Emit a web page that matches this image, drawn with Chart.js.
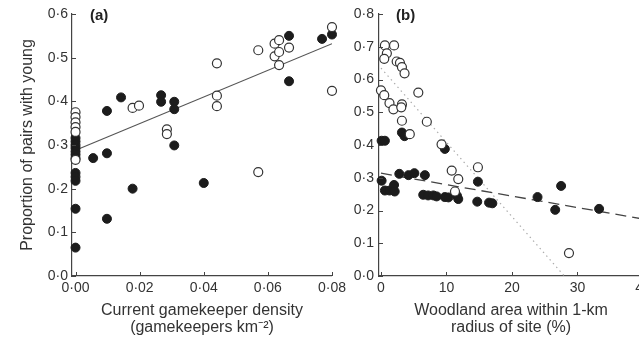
<!DOCTYPE html>
<html><head><meta charset="utf-8">
<script src="https://cdn.jsdelivr.net/npm/chart.js@4.4.0/dist/chart.umd.min.js"></script>
<style>
html,body{margin:0;padding:0;background:#fff;width:639px;height:343px;overflow:hidden;position:relative}
.wrap{position:absolute;top:0;height:343px}
</style></head><body>
<div class="wrap" style="left:0;width:350px"><canvas id="ca"></canvas></div>
<div class="wrap" style="left:330px;width:340px"><canvas id="cb"></canvas></div>
<script>
// ---------- Panel (a) data ----------
const A_FILLED_X = [0,0,0,0,0,0,0,0,0,0,0,0,0.0055,0.0098,0.0098,0.0098,0.0142,0.0178,0.0267,0.0267,0.0308,0.0308,0.0308,0.040,0.0666,0.0666,0.0769,0.080];
const A_FILLED_Y = [0.316,0.308,0.300,0.293,0.285,0.278,0.270,0.236,0.227,0.218,0.154,0.065,0.270,0.378,0.281,0.131,0.409,0.200,0.414,0.399,0.399,0.382,0.299,0.213,0.550,0.446,0.543,0.553];
const A_OPEN_X = [0,0,0,0,0,0,0.0178,0.0198,0.0285,0.0285,0.0441,0.0441,0.0441,0.057,0.057,0.0621,0.0621,0.0635,0.0635,0.0635,0.0666,0.080,0.080];
const A_OPEN_Y = [0.375,0.364,0.352,0.341,0.330,0.266,0.385,0.390,0.336,0.325,0.487,0.413,0.389,0.517,0.238,0.532,0.503,0.540,0.513,0.483,0.523,0.570,0.424];
const A_FIT_X = [0, 0.08];
const A_FIT_Y = [0.288, 0.532];
const A_XTICKS = [0, 0.02, 0.04, 0.06, 0.08];
const A_YTICKS = [0, 0.1, 0.2, 0.3, 0.4, 0.5, 0.6];

// ---------- Panel (b) data ----------
const B_FILLED_X = [0.1,0.6,3.2,3.6,9.75,0.1,0.6,1.3,2.0,2.1,2.8,4.2,5.1,6.7,6.45,7.2,8.0,8.5,9.75,10.3,11.6,11.8,14.8,14.7,16.5,17.0,23.9,27.5,26.6,33.3];
const B_FILLED_Y = [0.413,0.413,0.438,0.427,0.388,0.291,0.261,0.261,0.278,0.258,0.312,0.308,0.314,0.308,0.248,0.246,0.246,0.243,0.241,0.240,0.245,0.235,0.288,0.227,0.224,0.222,0.241,0.275,0.202,0.205];
const B_OPEN_X = [0.6,2.0,0.9,0.5,2.4,2.9,3.2,3.6,5.7,0,0.5,1.3,1.9,3.2,3.1,3.2,7.0,4.4,9.25,10.8,11.8,11.3,14.8,28.7];
const B_OPEN_Y = [0.704,0.704,0.680,0.663,0.655,0.651,0.638,0.619,0.560,0.567,0.552,0.528,0.509,0.524,0.515,0.474,0.471,0.433,0.402,0.322,0.296,0.258,0.332,0.070];
const B_DASH_X = [0, 40];
const B_DASH_Y = [0.314, 0.174];
const B_DOT_X = [0, 28];
const B_DOT_Y = [0.635, 0];
const B_XTICKS = [0, 10, 20, 30, 40];
const B_YTICKS = [0, 0.1, 0.2, 0.3, 0.4, 0.5, 0.6, 0.7, 0.8];

const TXT = '#333';
const FONT = "'Liberation Sans', Arial, sans-serif";
const pts = (xs, ys) => xs.map((x, i) => ({x, y: ys[i]}));
const fmt = d => v => (d === 0 ? String(Math.round(v)) : v.toFixed(d).replace('.', '\u00B7'));

const inwardTicks = {
  id: 'inwardTicks',
  afterDraw(chart, args, opts) {
    const ctx = chart.ctx, ca = chart.chartArea;
    ctx.save();
    ctx.strokeStyle = '#444'; ctx.lineWidth = 1;
    const xs = chart.scales.x, ys = chart.scales.y;
    xs.ticks.forEach(t => { const p = Math.round(xs.getPixelForValue(t.value)) + 0.5; ctx.beginPath(); ctx.moveTo(p, ca.bottom); ctx.lineTo(p, ca.bottom - 4); ctx.stroke(); });
    ys.ticks.forEach(t => { const p = Math.round(ys.getPixelForValue(t.value)) + 0.5; ctx.beginPath(); ctx.moveTo(ca.left, p); ctx.lineTo(ca.left + 4, p); ctx.stroke(); });
    ctx.fillStyle = '#222';
    ctx.font = 'bold 15px ' + FONT;
    ctx.textBaseline = 'middle';
    ctx.fillText(opts.label, ca.left + opts.dx, 16);
    ctx.restore();
  }
};

function build(id, c) {
  const datasets = [
    {data: pts(c.ox, c.oy), backgroundColor: '#fff', borderColor: '#333', borderWidth: 1.2, pointRadius: 4.5, clip: false, order: 0},
    {data: pts(c.fx, c.fy), backgroundColor: '#1c1c1c', borderColor: '#1c1c1c', borderWidth: 1, pointRadius: 4.5, clip: false, order: 1}
  ].concat(c.lines.map((l, i) => ({type: 'line', data: pts(l.x, l.y), showLine: true, pointRadius: 0, borderColor: l.color, borderWidth: l.w, borderDash: l.dash, fill: false, order: 2 + i})));
  new Chart(document.getElementById(id), {
    type: 'scatter',
    data: {datasets},
    plugins: [inwardTicks],
    options: {
      responsive: true, maintainAspectRatio: false, animation: false, devicePixelRatio: 1,
      layout: {padding: {top: 14, right: c.padRight, left: 0, bottom: 0}},
      plugins: {legend: {display: false}, tooltip: {enabled: false}, inwardTicks: {label: c.label, dx: c.labelDx}},
      scales: {
        x: {
          type: 'linear', min: c.xmin, max: c.xmax,
          afterBuildTicks: s => { s.ticks = c.xticks.map(v => ({value: v})); },
          afterFit: s => { s.height = 67; },
          grid: {drawOnChartArea: false, drawTicks: false},
          border: {display: true, color: '#444', width: 1.2},
          ticks: {color: TXT, font: {family: FONT, size: 14}, padding: 4, maxRotation: 0, autoSkip: false, callback: fmt(c.xdec)},
          title: {display: true, text: c.xtitle, color: TXT, font: {family: FONT, size: 16, lineHeight: '17px'}, padding: {top: 0, bottom: 6.5}}
        },
        y: {
          type: 'linear', min: 0, max: c.ymax,
          afterBuildTicks: s => { s.ticks = c.yticks.map(v => ({value: v})); },
          afterFit: s => { s.width = c.yw; },
          grid: {drawOnChartArea: false, drawTicks: false},
          border: {display: true, color: '#444', width: 1.2},
          ticks: {color: TXT, font: {family: FONT, size: 14}, padding: c.ypad, autoSkip: false, callback: fmt(1)},
          title: {display: !!c.ytitle, text: c.ytitle || '', color: TXT, font: {family: FONT, size: 16, lineHeight: '19px'}, padding: {top: 18.5, bottom: 0}}
        }
      }
    }
  });
}

build('ca', {
  fx: A_FILLED_X, fy: A_FILLED_Y, ox: A_OPEN_X, oy: A_OPEN_Y,
  lines: [{x: A_FIT_X, y: A_FIT_Y, color: '#555', w: 1.2, dash: []}],
  xmin: -0.0011, xmax: 0.08, ymax: 0.6, xticks: A_XTICKS, yticks: A_YTICKS, xdec: 2,
  xtitle: ['Current gamekeeper density', '(gamekeepers km\u207B\u00B2)'],
  ytitle: 'Proportion of pairs with young', yw: 72, ypad: 4, padRight: 14, label: '(a)', labelDx: 18
});
build('cb', {
  fx: B_FILLED_X, fy: B_FILLED_Y, ox: B_OPEN_X, oy: B_OPEN_Y,
  lines: [
    {x: B_DASH_X, y: B_DASH_Y, color: '#444', w: 1.3, dash: [11, 6]},
    {x: B_DOT_X, y: B_DOT_Y, color: '#aaa', w: 1.2, dash: [1.5, 3.5]}
  ],
  xmin: -0.3, xmax: 40, ymax: 0.8, xticks: B_XTICKS, yticks: B_YTICKS, xdec: 0,
  xtitle: ['Woodland area within 1-km', 'radius of site (%)'],
  ytitle: null, yw: 49, ypad: 5, padRight: 27, label: '(b)', labelDx: 17
});
</script>
</body></html>
